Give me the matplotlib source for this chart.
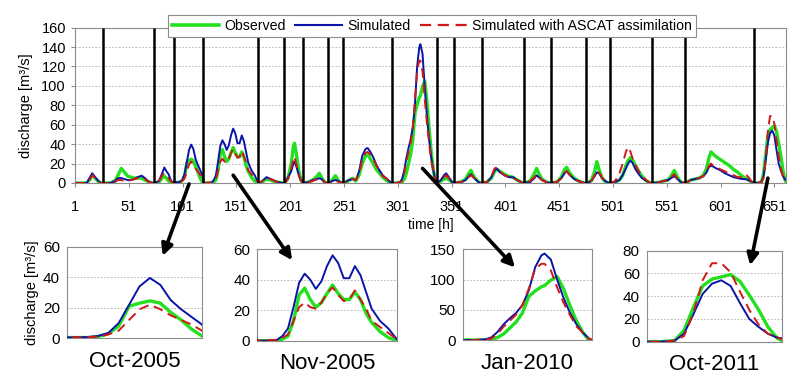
import numpy as np
import matplotlib
matplotlib.use("Agg")
import matplotlib.pyplot as plt
from matplotlib.lines import Line2D
from matplotlib.patches import ConnectionPatch

plt.rcParams['font.family'] = ['Liberation Sans', 'DejaVu Sans']

# time [h] of the read points, one line per flood event
hours = [
    1, 12, 15, 17, 19, 22, 25,
    28, 34, 38, 41, 44, 47, 50, 53, 56, 59, 63, 66, 70, 73,
    75, 79, 82, 84, 86, 88, 90, 92,
    93, 97, 99, 101, 103, 105, 107, 109, 111, 113, 115, 117, 119,
    121, 126, 128, 130, 132, 134, 136, 138, 140, 142, 144, 146, 148, 150, 152, 154, 156, 158, 160, 162, 165, 168, 171,
    173, 176, 179, 183, 187, 191, 194,
    196, 199, 202, 204, 205, 207, 209, 211, 213,
    214, 218, 222, 226, 228, 230, 233, 235,
    237, 240, 243, 246, 249,
    251, 255, 259, 262, 265, 268, 271, 273, 275, 278, 281, 284, 287, 290, 293, 295,
    296, 300, 303, 305, 307, 309, 311, 313, 315, 317, 319, 321, 322, 324, 326, 328, 330, 332, 334, 336, 337,
    338, 341, 344, 346, 349, 352,
    354, 360, 364, 367, 369, 372, 376, 378,
    380, 384, 388, 391, 393, 396, 400, 404, 408, 412, 417,
    419, 424, 428, 430, 432, 435, 439, 442,
    444, 449, 453, 456, 458, 461, 465, 469, 474,
    477, 481, 484, 486, 488, 491, 494, 497,
    499, 503, 507, 510, 513, 515, 517, 519, 522, 525, 528, 531, 534, 536,
    538, 543, 548, 552, 555, 558, 561, 564, 567,
    569, 573, 577, 581, 585, 588, 590, 592, 594, 597, 601, 605, 609, 613, 617, 621, 624, 627, 630, 631,
    633, 636, 639, 641, 643, 645, 647, 649, 651, 653, 655, 657, 659, 661, 662,
]

observed = [
    0, 0, 4, 8, 6, 2, 0,
    0, 0, 2, 8, 15, 11, 7, 6, 5, 5, 5, 3, 1, 0,
    0, 1, 5, 7, 5, 2, 0.5, 0,
    0.5, 0.5, 1, 3, 8, 21, 23, 24.5, 23, 17, 12, 6, 1.5,
    0, 0, 0, 1, 3, 13, 30, 34.5, 27, 22, 25, 31, 36.5, 31, 27, 27, 32, 27, 18, 12, 6, 2, 0,
    0, 2, 4, 3, 1, 0.5, 0,
    0, 5, 20, 38, 41, 28, 12, 3, 0,
    0, 1, 3, 7, 10, 6, 1, 0,
    0, 3, 7.5, 2, 0,
    0, 2, 5, 2, 8, 20, 28, 29, 26, 20, 14, 10, 6, 3, 1, 0,
    0, 0, 0, 1, 4, 10, 20, 30, 45, 72, 81, 88, 90, 99, 105, 85, 58, 33, 14, 0, 0,
    0, 2, 4, 5, 3, 0,
    0, 1, 4, 10, 13, 6, 1, 0,
    0, 1, 5, 12, 14, 12, 9, 7, 6, 3, 0,
    0, 2, 10, 15, 10, 4, 1, 0,
    0, 1, 6, 14, 16, 10, 5, 2, 0,
    0, 3, 12, 22, 14, 5, 1, 0,
    0, 1, 3, 8, 18, 23, 26, 24, 18, 12, 7, 3, 1, 0,
    0, 0.5, 2, 3, 7, 13, 6, 1, 0,
    0, 3, 4, 5, 8, 15, 25, 32, 30, 27, 24, 21, 18, 14, 11, 7, 5, 3, 1, 0,
    0, 0, 1, 10, 30, 49, 55, 57, 59, 53, 41, 28, 13, 3, 1,
]

simulated = [
    0, 0, 6, 10, 7, 3, 0,
    0, 0, 2, 5, 5, 4, 3, 3, 4, 6, 7.5, 5, 1, 0,
    0, 2, 10, 16, 12, 9, 3, 0,
    0.5, 0.8, 1.5, 3.5, 10, 22, 34, 39.5, 35, 25, 19, 14, 9,
    0, 0, 0.5, 3, 8, 22, 38, 44, 40, 34, 39, 49, 56, 51, 41, 41, 49, 43, 32, 21, 13, 8, 1,
    0, 3, 6, 4, 2, 0.5, 0,
    0, 6, 12, 20, 22, 16, 8, 3, 0,
    0, 1, 3, 4, 5, 4, 1, 0,
    0, 2, 3, 2, 0,
    0, 3, 4, 3, 12, 28, 35, 36, 33, 27, 19, 13, 8, 5, 2, 0,
    0, 0, 1, 4, 13, 26, 36, 45, 58, 82, 120, 140, 143, 133, 100, 70, 46, 27, 13, 3, 0,
    0, 3, 8, 10, 5, 0,
    0, 1, 3, 7, 9, 5, 1, 0,
    0, 1, 6, 13, 15, 11, 8, 6, 6, 3, 0,
    0, 1, 5, 8, 6, 3, 1, 0,
    0, 1, 5, 10, 12, 8, 4, 2, 0,
    0, 2, 7, 11, 10, 5, 2, 0,
    0, 1, 3, 8, 15, 20, 23, 21, 14, 9, 5, 3, 1, 0,
    0, 0.5, 2, 3, 5, 7, 4, 1, 0,
    0, 3, 4, 5, 7, 11, 16, 18, 17, 15, 13, 10, 8, 6, 5, 4, 4, 3, 1, 0,
    0, 0, 1, 7, 24, 42, 51, 54, 49, 34, 20, 13, 7, 3.5, 3,
]

assimilated = [
    0, 0, 4, 8, 6, 3, 0,
    0, 0, 1, 3, 3, 2, 2, 3, 4, 5, 5, 4, 1, 0,
    0, 2, 8, 10, 8, 5, 2, 0,
    0.5, 0.8, 1, 2.5, 5, 12, 19, 22, 19, 15, 12, 9, 5,
    0, 0.5, 0.5, 2, 4, 13, 22, 25, 22, 21, 25, 31, 35, 30, 26, 27, 33, 27, 21, 13, 9, 5, 1,
    0, 3, 5, 4, 2, 0.5, 0,
    0, 4, 15, 25, 27, 18, 8, 2, 0,
    0, 1, 2, 4, 4.5, 3, 1, 0,
    0, 1, 2, 1, 0,
    0, 3, 4, 3, 10, 24, 31, 32, 30, 25, 18, 12, 7, 5, 2, 0,
    0, 0, 1, 2, 10, 22, 32, 42, 58, 85, 117, 126, 126, 115, 87, 62, 42, 23, 13, 3, 0,
    0, 2, 6, 8, 4, 0,
    0, 1, 3, 6, 8, 5, 1, 0,
    0, 1, 7, 15, 16, 12, 8, 6, 5, 3, 0,
    0, 2, 6, 9, 6, 3, 1, 0,
    0, 1, 5, 11, 12, 8, 4, 2, 0,
    0, 2, 8, 13, 11, 5, 2, 0,
    0, 2, 10, 20, 32, 37, 33, 26, 18, 12, 7, 4, 1, 0,
    0, 0.5, 2, 3, 6, 9, 4, 1, 0,
    0, 3, 4, 5, 7, 12, 17, 20, 18, 16, 14, 12, 10, 8, 6, 6, 9, 6, 1, 0,
    0, 0, 1, 5, 25, 54, 69, 69, 61, 44, 28, 15, 7, 4, 2,
]

# event separators [h]
event_bounds = [27, 74, 93, 120, 171, 195, 213, 236, 250, 296, 337, 353,
                379, 418, 443, 476, 498, 537, 568, 632]

# zoomed events
zoom_names = ["Oct-2005", "Nov-2005", "Jan-2010", "Oct-2011"]
zoom_start = [93, 121, 296, 633]
zoom_end = [119, 171, 337, 662]
zoom_ymax = [60, 60, 150, 80]
zoom_step = [20, 20, 50, 20]

x_ticks = list(range(1, 652, 50))

assert len(hours) == len(observed) == len(simulated) == len(assimilated)

t = np.array(hours)
obs = np.array(observed)
sim = np.array(simulated)
asc = np.array(assimilated)

c_obs = '#22e01e'
c_sim = '#0a14a8'
c_asc = '#d01818'
grey = '#8c8c8c'


def draw_series(a):
    a.plot(t, obs, color=c_obs, lw=2.4, zorder=2)
    a.plot(t, sim, color=c_sim, lw=1.4, zorder=3)
    a.plot(t, asc, color=c_asc, lw=1.4, dashes=(5, 3), zorder=3.5)


def style_axes(a):
    for s in a.spines.values():
        s.set_color(grey)
        s.set_linewidth(0.8)
    a.yaxis.grid(True, linestyle=(0, (2, 2)), color='#b0b0b0', lw=0.6)
    a.set_axisbelow(True)


fig = plt.figure(figsize=(8, 3.79), dpi=100)

# main panel
ax = fig.add_axes([0.09375, 0.5172, 0.889, 0.4098])
draw_series(ax)
ax.vlines(event_bounds, 0, 160, colors='k', lw=1.8, zorder=4)
style_axes(ax)
ax.set_xlim(1, 662)
ax.set_ylim(0, 160)
ax.set_yticks(range(0, 161, 20))
ax.set_xticks(x_ticks)
ax.tick_params(axis='both', labelsize=10.5, length=3, color=grey)
ax.tick_params(axis='x', pad=9)
ax.set_ylabel("discharge [m³/s]", fontsize=10.5, labelpad=6)
ax.set_xlabel("time [h]", fontsize=10, labelpad=3)

handles = [Line2D([], [], color=c_obs, lw=2.6),
           Line2D([], [], color=c_sim, lw=1.5),
           Line2D([], [], color=c_asc, lw=1.6, dashes=(5, 3))]
labels = ["Observed", "Simulated", "Simulated with ASCAT assimilation"]
leg = fig.legend(handles, labels, loc='center', bbox_to_anchor=(0.54, 0.932),
                 ncol=3, fontsize=10.2, frameon=True, fancybox=False,
                 edgecolor=grey, framealpha=1, handlelength=3.3,
                 handletextpad=0.35, columnspacing=0.7, borderpad=0.3,
                 borderaxespad=0)
leg.get_frame().set_linewidth(0.8)

# zoom panels
boxes = [[0.0834, 0.1074, 0.169, 0.2417],
         [0.3216, 0.1011, 0.1743, 0.2412],
         [0.5784, 0.1029, 0.1613, 0.2393],
         [0.8084, 0.0984, 0.169, 0.2401]]
# arrow: start on main panel (hour, value), end in zoom panel (axes fraction)
arrow_from = [(107, -1), (148, 8), (324, 15), (645, 5)]
arrow_to = [(0.71, 0.9), (0.25, 0.88), (0.405, 0.8), (0.765, 0.84)]

for i, name in enumerate(zoom_names):
    sa = fig.add_axes(boxes[i])
    draw_series(sa)
    style_axes(sa)
    sa.set_xlim(zoom_start[i], zoom_end[i])
    sa.set_ylim(0, zoom_ymax[i])
    sa.set_yticks(range(0, zoom_ymax[i] + 1, zoom_step[i]))
    sa.set_xticks([])
    sa.tick_params(axis='y', labelsize=11, length=0, pad=5)
    sa.set_xlabel(name, fontsize=16, labelpad=9)
    if i == 0:
        sa.set_ylabel("discharge [m³/s]", fontsize=10.5, labelpad=3)
    con = ConnectionPatch(xyA=arrow_from[i], coordsA=ax.transData,
                          xyB=arrow_to[i], coordsB=sa.transAxes,
                          arrowstyle='-|>', lw=2.6, color='k',
                          mutation_scale=17, zorder=10)
    fig.add_artist(con)

fig.savefig("out.png", dpi=100)
